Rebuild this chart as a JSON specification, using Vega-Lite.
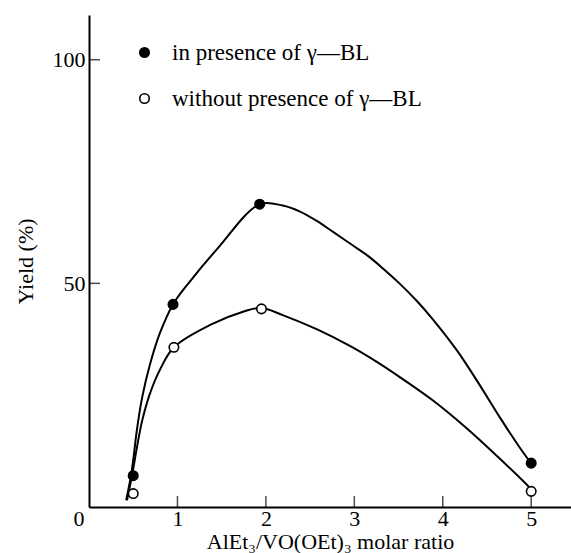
{
  "$schema": "https://vega.github.io/schema/vega-lite/v6.json",
  "width": 482,
  "height": 492,
  "autosize": "none",
  "padding": {"left": 89, "top": 15, "right": 0, "bottom": 46},
  "background": "white",
  "config": {
    "view": {"stroke": null},
    "font": "Liberation Serif",
    "axis": {"grid": false, "domainColor": "black", "domainWidth": 2, "ticks": false, "labelColor": "black", "titleColor": "black", "labelFont": "Liberation Serif", "titleFont": "Liberation Serif", "titleFontWeight": "normal", "labelFontSize": 22, "titleFontSize": 22}
  },
  "datasets": {
    "pts": [
      {"ratio": 0.5, "yield": 7, "series": "in presence of γ—BL"},
      {"ratio": 0.95, "yield": 45.3, "series": "in presence of γ—BL"},
      {"ratio": 1.93, "yield": 67.7, "series": "in presence of γ—BL"},
      {"ratio": 5.0, "yield": 9.8, "series": "in presence of γ—BL"},
      {"ratio": 0.5, "yield": 3, "series": "without presence of γ—BL"},
      {"ratio": 0.96, "yield": 35.7, "series": "without presence of γ—BL"},
      {"ratio": 1.95, "yield": 44.3, "series": "without presence of γ—BL"},
      {"ratio": 5.0, "yield": 3.5, "series": "without presence of γ—BL"}
    ],
    "curves": [
      {"ratio": 0.42, "yield": 1.5, "curve": "a"},
      {"ratio": 0.47, "yield": 6.5, "curve": "a"},
      {"ratio": 0.5, "yield": 10.5, "curve": "a"},
      {"ratio": 0.54, "yield": 17, "curve": "a"},
      {"ratio": 0.6, "yield": 24.4, "curve": "a"},
      {"ratio": 0.69, "yield": 31.9, "curve": "a"},
      {"ratio": 0.8, "yield": 38.8, "curve": "a"},
      {"ratio": 0.95, "yield": 45.3, "curve": "a"},
      {"ratio": 1.14, "yield": 50.4, "curve": "a"},
      {"ratio": 1.45, "yield": 57.7, "curve": "a"},
      {"ratio": 1.93, "yield": 67.7, "curve": "a"},
      {"ratio": 2.19, "yield": 67.4, "curve": "a"},
      {"ratio": 2.38, "yield": 66.1, "curve": "a"},
      {"ratio": 2.58, "yield": 63.9, "curve": "a"},
      {"ratio": 2.76, "yield": 61.5, "curve": "a"},
      {"ratio": 2.96, "yield": 58.8, "curve": "a"},
      {"ratio": 3.15, "yield": 56.2, "curve": "a"},
      {"ratio": 3.32, "yield": 53.4, "curve": "a"},
      {"ratio": 3.51, "yield": 50.0, "curve": "a"},
      {"ratio": 3.71, "yield": 46.0, "curve": "a"},
      {"ratio": 3.89, "yield": 41.9, "curve": "a"},
      {"ratio": 4.16, "yield": 35.0, "curve": "a"},
      {"ratio": 4.42, "yield": 27.2, "curve": "a"},
      {"ratio": 4.64, "yield": 20.2, "curve": "a"},
      {"ratio": 4.87, "yield": 13.3, "curve": "a"},
      {"ratio": 4.99, "yield": 10, "curve": "a"},
      {"ratio": 0.43, "yield": 1.5, "curve": "b"},
      {"ratio": 0.49, "yield": 7.4, "curve": "b"},
      {"ratio": 0.54, "yield": 13.1, "curve": "b"},
      {"ratio": 0.6, "yield": 19.2, "curve": "b"},
      {"ratio": 0.69, "yield": 25.4, "curve": "b"},
      {"ratio": 0.8, "yield": 30.6, "curve": "b"},
      {"ratio": 0.96, "yield": 35.7, "curve": "b"},
      {"ratio": 1.37, "yield": 40.7, "curve": "b"},
      {"ratio": 1.75, "yield": 43.7, "curve": "b"},
      {"ratio": 1.95, "yield": 44.5, "curve": "b"},
      {"ratio": 2.19, "yield": 42.9, "curve": "b"},
      {"ratio": 2.58, "yield": 39.7, "curve": "b"},
      {"ratio": 2.96, "yield": 35.9, "curve": "b"},
      {"ratio": 3.25, "yield": 32.5, "curve": "b"},
      {"ratio": 3.51, "yield": 29.1, "curve": "b"},
      {"ratio": 3.89, "yield": 23.8, "curve": "b"},
      {"ratio": 4.27, "yield": 17.6, "curve": "b"},
      {"ratio": 4.64, "yield": 10.9, "curve": "b"},
      {"ratio": 4.92, "yield": 5.6, "curve": "b"},
      {"ratio": 4.98, "yield": 4.4, "curve": "b"}
    ],
    "xticks": [{"v": 1}, {"v": 2}, {"v": 3}, {"v": 4}, {"v": 5}],
    "yticks": [{"v": 50}, {"v": 100}]
  },
  "layer": [
    {
      "data": {"name": "curves"},
      "mark": {"type": "line", "interpolate": "catmull-rom", "color": "black", "strokeWidth": 2},
      "encoding": {
        "x": {"field": "ratio", "type": "quantitative", "scale": {"domain": [0, 5.45], "nice": false},
          "axis": {"values": [0, 1, 2, 3, 4, 5], "format": "d", "labelPadding": 1, "labelAlign": {"condition": {"test": "datum.value == 0", "value": "right"}, "value": "center"}, "labelOffset": {"condition": {"test": "datum.value == 0", "value": -5}, "value": 0}, "title": "AlEt₃/VO(OEt)₃ molar ratio", "titlePadding": 2}},
        "y": {"field": "yield", "type": "quantitative", "scale": {"domain": [0, 110], "nice": false},
          "axis": {"values": [50, 100], "format": "d", "labelPadding": 4, "title": "Yield (%)", "titleX": -64, "titleY": 246, "titleAngle": -90, "titleAlign": "center", "titleBaseline": "middle"}},
        "detail": {"field": "curve"}
      }
    },
    {
      "data": {"name": "xticks"},
      "mark": {"type": "tick", "orient": "vertical", "size": 11, "thickness": 1.5, "yOffset": -5.5, "color": "black"},
      "encoding": {
        "x": {"field": "v", "type": "quantitative"},
        "y": {"datum": 0}
      }
    },
    {
      "data": {"name": "yticks"},
      "mark": {"type": "tick", "orient": "horizontal", "size": 11, "thickness": 1.5, "xOffset": 5.5, "color": "black"},
      "encoding": {
        "y": {"field": "v", "type": "quantitative"},
        "x": {"datum": 0}
      }
    },
    {
      "data": {"name": "pts"},
      "mark": {"type": "point", "shape": "circle", "size": 90, "stroke": "black", "strokeWidth": 1.6, "opacity": 1},
      "encoding": {
        "x": {"field": "ratio", "type": "quantitative"},
        "y": {"field": "yield", "type": "quantitative"},
        "fill": {"field": "series", "type": "nominal", "scale": {"domain": ["in presence of γ—BL", "without presence of γ—BL"], "range": ["black", "white"]},
          "legend": {"title": null, "orient": "none", "legendX": 44, "legendY": 26, "padding": 0, "rowPadding": 22, "labelFontSize": 23, "labelFont": "Liberation Serif", "labelColor": "black", "labelOffset": 16, "labelLimit": 500, "symbolType": "circle", "symbolSize": 90, "symbolStrokeColor": "black", "symbolStrokeWidth": 1.6, "symbolOpacity": 1}}
      }
    }
  ]
}
